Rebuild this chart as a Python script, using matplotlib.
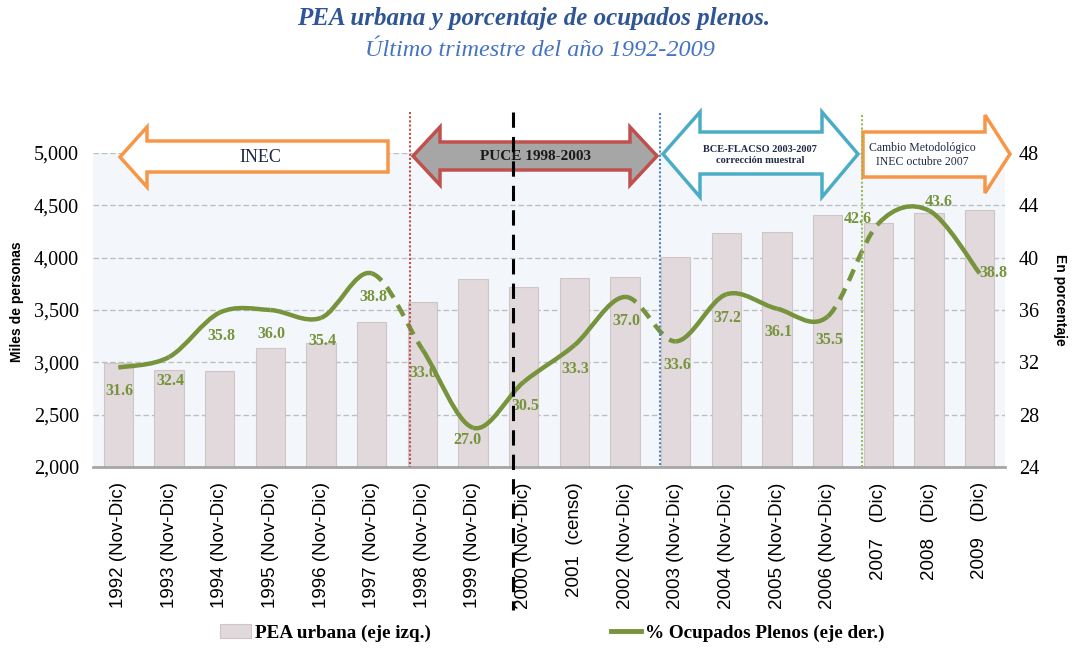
import matplotlib
matplotlib.use("Agg")
import matplotlib.pyplot as plt
import matplotlib.transforms as mtransforms
from matplotlib.path import Path
from matplotlib.patches import PathPatch, Polygon, Patch
from matplotlib.lines import Line2D
from matplotlib.ticker import FuncFormatter

SERIF = "Liberation Serif"
SANS = "Liberation Sans"
W, H = 1074, 649

categories = [
    "1992 (Nov-Dic)", "1993 (Nov-Dic)", "1994 (Nov-Dic)", "1995 (Nov-Dic)",
    "1996 (Nov-Dic)", "1997 (Nov-Dic)", "1998 (Nov-Dic)", "1999 (Nov-Dic)",
    "2000 (Nov-Dic)", "2001  (censo)", "2002 (Nov-Dic)", "2003 (Nov-Dic)",
    "2004 (Nov-Dic)", "2005 (Nov-Dic)", "2006 (Nov-Dic)", "2007   (Dic)",
    "2008   (Dic)", "2009   (Dic)",
]
pea_urbana = [2990, 2925, 2920, 3135, 3185, 3385, 3575, 3795, 3720,
              3810, 3815, 4005, 4235, 4245, 4405, 4330, 4425, 4455]
ocupados_plenos = [31.6, 32.4, 35.8, 36.0, 35.4, 38.8, 33.0, 27.0, 30.5,
                   33.3, 37.0, 33.6, 37.2, 36.1, 35.5, 42.6, 43.6, 38.8]
# line segments (i -> i+1) drawn dashed: changes of source
dashed_segments = [5, 10, 14]
# label offsets in points, default below the point
label_offsets = {7: (-4, -9), 15: (-15, 3), 16: (7, 6), 17: (10, 0)}

GREEN = "#77933C"
BAR = "#E1D9DB"


def px(x, y):
    return (x / W, 1 - y / H)


def smooth_segment(xs, ys, i):
    n = len(xs)
    a, b, c, d = max(i - 1, 0), i, i + 1, min(i + 2, n - 1)
    c1 = (xs[b] + (xs[c] - xs[a]) / 6, ys[b] + (ys[c] - ys[a]) / 6)
    c2 = (xs[c] - (xs[d] - xs[b]) / 6, ys[c] - (ys[d] - ys[b]) / 6)
    verts = [(xs[b], ys[b]), c1, c2, (xs[c], ys[c])]
    return Path(verts, [Path.MOVETO, Path.CURVE4, Path.CURVE4, Path.CURVE4])


fig = plt.figure(figsize=(W / 100, H / 100), dpi=100)
ax = fig.add_axes([93 / W, 1 - 467 / H, (1005 - 93) / W, (467 - 153) / H])
ax.set_facecolor("#F3F7FB")

x = list(range(len(categories)))
ax.bar(x, pea_urbana, width=0.58, color=BAR, edgecolor="#CFC5C7", linewidth=0.8, zorder=2)
ax.set_ylim(2000, 5000)
ax.set_xlim(-0.5, len(categories) - 0.5)
ax.set_yticks(range(2000, 5001, 500))
ax.yaxis.set_major_formatter(FuncFormatter(lambda v, p: f"{int(v):,}"))
ax.grid(axis="y", linestyle=(0, (4, 2)), color="#BFBFBF", linewidth=1, zorder=1)
ax.set_axisbelow(True)
for s in ["top", "left", "right"]:
    ax.spines[s].set_visible(False)
ax.spines["bottom"].set_color("#A6A6A6")
ax.spines["bottom"].set_linewidth(2)
ax.tick_params(axis="y", length=0, pad=10, labelsize=14.5)
ax.tick_params(axis="x", length=0, pad=11)
for lab in ax.get_yticklabels():
    lab.set_fontfamily(SERIF)
ax.set_xticks(x)
ax.set_xticklabels(categories, rotation=90, fontfamily=SANS, fontsize=13.5)

ax2 = ax.twinx()
ax2.set_ylim(24, 48)
ax2.set_yticks(range(24, 49, 4))
for s in ["top", "left", "right", "bottom"]:
    ax2.spines[s].set_visible(False)
ax2.tick_params(axis="y", length=0, pad=10, labelsize=14.5)
for lab in ax2.get_yticklabels():
    lab.set_fontfamily(SERIF)

for i in range(len(x) - 1):
    path = smooth_segment(x, ocupados_plenos, i)
    ls = (0, (2.8, 1.9)) if i in dashed_segments else "-"
    ax2.add_patch(PathPatch(path, fill=False, edgecolor=GREEN, linewidth=3.2,
                            linestyle=ls, capstyle="butt", zorder=4))

for i, v in enumerate(ocupados_plenos):
    off = label_offsets.get(i, (1, -17))
    ax2.annotate(f"{v:.1f}", (i, v), xytext=off, textcoords="offset points",
                 ha="center", va="center", fontsize=11.5, fontweight="bold",
                 fontfamily=SERIF, color=GREEN, zorder=5)

fig.text(17 / W, 1 - 302 / H, "Miles de personas", rotation=90, ha="center", va="center",
         fontsize=10, fontweight="bold", fontfamily=SANS)
fig.text(1060 / W, 1 - 300 / H, "En porcentaje", rotation=-90, ha="center", va="center",
         fontsize=10, fontweight="bold", fontfamily=SANS)

# title
fig.text(534 / W, 1 - 18 / H, "PEA urbana y porcentaje de ocupados plenos.", ha="center",
         va="center", fontsize=18, fontweight="bold", fontstyle="italic",
         fontfamily=SERIF, color="#2F5597")
fig.text(540 / W, 1 - 50 / H, "Último trimestre del año 1992-2009", ha="center",
         va="center", fontsize=17.5, fontstyle="italic", fontfamily=SERIF, color="#4472C4")

# source divisions
divider_x = [5.75, 7.78, 10.7, 14.67]
divider_style = [("#C0504D", (0, (1, 1)), 1.5, 112, 467),
                 ("black", (0, (5, 3)), 2.2, 112, 610),
                 ("#4F81BD", (0, (1, 1)), 1.5, 113, 467),
                 ("#9BBB59", (0, (1, 1)), 1.5, 115, 467)]
vtrans = mtransforms.blended_transform_factory(ax.transData, fig.transFigure)
for xd, (col, ls, lw, y0, y1) in zip(divider_x, divider_style):
    fig.add_artist(Line2D([xd, xd], [1 - y0 / H, 1 - y1 / H], transform=vtrans,
                          color=col, linestyle=ls, linewidth=lw, zorder=3))

arrows = [
    ([(120, 157), (147, 127), (147, 141), (388, 141), (388, 172), (147, 172), (147, 187)],
     "white", "#F79646"),
    ([(413, 156), (440, 127), (440, 142), (630, 142), (630, 127), (657, 156), (630, 185),
      (630, 170), (440, 170), (440, 185)], "#A6A6A6", "#C0504D"),
    ([(663, 154), (700, 112), (700, 132), (822, 132), (822, 112), (858, 154), (822, 197),
      (822, 174), (700, 174), (700, 197)], "white", "#4BACC6"),
    ([(863, 132), (985, 132), (985, 115), (1010, 154), (985, 193), (985, 177), (863, 177)],
     "white", "#F79646"),
]
for pts, fc, ec in arrows:
    fig.add_artist(Polygon([px(*p) for p in pts], closed=True, transform=fig.transFigure,
                           facecolor=fc, edgecolor=ec, linewidth=2.5, zorder=2))

fig.text(*px(260, 157), "INEC", ha="center", va="center", fontsize=13, fontfamily=SERIF,
         color="#1F2A44", zorder=4)
fig.text(*px(535, 156), "PUCE 1998-2003", ha="center", va="center", fontsize=11,
         fontweight="bold", fontfamily=SERIF, color="#1A1A1A", zorder=2.5)
fig.text(*px(760, 155), "BCE-FLACSO 2003-2007\ncorrección muestral", ha="center",
         va="center", fontsize=7.5, fontweight="bold", fontfamily=SERIF,
         color="#1F2A44", linespacing=1.2, zorder=4)
fig.text(*px(922, 155), "Cambio Metodológico\nINEC octubre 2007", ha="center",
         va="center", fontsize=8.5, fontfamily=SERIF, color="#1F2A44",
         linespacing=1.2, zorder=4)

handles = [Patch(facecolor=BAR, edgecolor="#CFC5C7", linewidth=0.8),
           Line2D([0], [0], color=GREEN, linewidth=3.5)]
fig.legend(handles, ["PEA urbana (eje izq.)", "% Ocupados Plenos (eje der.)"],
           loc="center left", bbox_to_anchor=px(203, 633), ncol=2, frameon=False,
           prop={"family": SERIF, "weight": "bold", "size": 13.8},
           handlelength=1.6, handletextpad=0.2, columnspacing=9.4)

fig.savefig("out.png", dpi=100)
